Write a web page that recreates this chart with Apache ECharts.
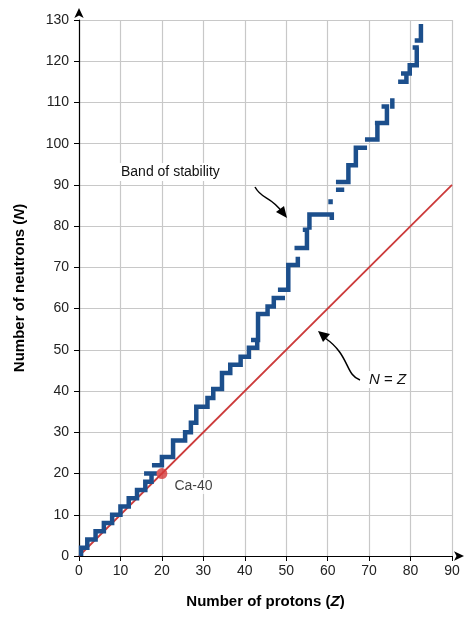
<!doctype html>
<html>
<head>
<meta charset="UTF-8"/>
<script src="https://cdn.jsdelivr.net/npm/echarts@6/dist/echarts.min.js"></script>
<style>html,body{margin:0;padding:0;background:#fff}</style>
</head>
<body>
<div id="chart" style="width:472px;height:625px;"></div>
<script>
// band of stability, traced as a stepped path [Z, N]; '-' breaks the line
var band = [
  [0.5,0],[0.5,2],[2,2],[2,4],[4,4],[4,6],[6,6],[6,8],[8,8],[8,10],[10,10],[10,12],[12,12],[12,14],[14,14],[14,16],[16,16],[16,18],[17.5,18],[17.5,20],'-',
  [15.7,20],[18.8,20],'-',
  [17.6,22],[20,22],[20,24],[22.7,24],[22.7,28],[25.6,28],[25.6,30],[27,30],[27,32.3],[28.3,32.3],[28.3,36.2],[31,36.2],[31,38.3],[32.4,38.3],[32.4,40.5],
  [34.5,40.5],[34.5,44.4],[36.5,44.4],[36.5,46.4],[39,46.4],[39,48.3],[41,48.3],[41,50.5],[43,50.5],[43,52.4],'-',
  [41.5,52.4],[43.2,52.4],[43.2,58.7],[45.5,58.7],[45.5,60.5],[47,60.5],[47,62.6],[49.7,62.6],'-',[48,64.6],[50.5,64.6],[50.5,70.6],[52.8,70.6],[52.8,72.6],'-',
  [52,74.7],[55,74.7],[55,79.1],[54,79.1],'-',[55.6,79.1],[55.6,82.8],[61,82.8],[61,81.5],'-',
  [60.7,85.3],[60.7,86.5],'-',
  [62,88.8],[64,88.8],'-',[62,90.7],[65,90.7],[65,94.8],[66.8,94.8],[66.8,99],[69.5,99],'-',
  [69,101],[72,101],[72,105],[71.4,105],'-',[72,105],[74.3,105],[74.3,109],[73,109],'-',
  [75.6,108.5],[75.6,111],'-',
  [77,115],[79,115],[79,117],'-',[77.7,117],[79.8,117],[79.8,119],[81.5,119],[81.5,123.3],'-',
  [80.5,123.3],[82,123.3],'-',[81,125],[82.5,125],[82.5,129]
];
var lineNZ = [[0,0],[90,90]];
var ca40 = [[20,20]];
var yMax = 130;

var chart = echarts.init(document.getElementById('chart'));
var ff = 'Liberation Sans, Arial, sans-serif';

var option = {
  animation: false,
  textStyle: { fontFamily: ff },
  grid: { left: 79, right: 20, top: 20, bottom: 69 },
  xAxis: {
    type: 'value', min: 0, max: 90, interval: 10,
    name: '{b|Number of protons (}{i|Z}{b|)}',
    nameLocation: 'middle', nameGap: 38,
    nameTextStyle: { rich: {
      b: { fontWeight: 'bold', fontSize: 15, color: '#000', fontFamily: ff },
      i: { fontWeight: 'bold', fontStyle: 'italic', fontSize: 15, color: '#000', fontFamily: ff }
    } },
    axisLine: { lineStyle: { color: '#000', width: 1.2 }, symbol: ['none', 'arrow'], symbolSize: [7, 10], symbolOffset: [0, 12] },
    axisTick: { show: true, length: 5, lineStyle: { color: '#000' } },
    axisLabel: { color: '#222', fontSize: 14, margin: 8 },
    splitLine: { lineStyle: { color: '#c8c8c8', width: 1.2 } }
  },
  yAxis: {
    type: 'value', min: 0, max: yMax, interval: 10,
    name: '{b|Number of neutrons (}{i|N}{b|)}',
    nameLocation: 'middle', nameGap: 52, nameRotate: 90,
    nameTextStyle: { rich: {
      b: { fontWeight: 'bold', fontSize: 15, color: '#000', fontFamily: ff },
      i: { fontWeight: 'bold', fontStyle: 'italic', fontSize: 15, color: '#000', fontFamily: ff }
    } },
    axisLine: { show: true, lineStyle: { color: '#000', width: 1.2 }, symbol: ['none', 'arrow'], symbolSize: [7, 10], symbolOffset: [0, 12] },
    axisTick: { show: true, length: 5, lineStyle: { color: '#000' } },
    axisLabel: { color: '#222', fontSize: 14, margin: 10 },
    splitLine: { lineStyle: { color: '#c8c8c8', width: 1.2 } }
  },
  series: [
    {
      type: 'line', data: lineNZ, showSymbol: false, z: 3,
      lineStyle: { color: '#cc3b3b', width: 1.8 }
    },
    {
      type: 'line', data: band, showSymbol: false, connectNulls: false, z: 4,
      lineStyle: { color: '#1c4f8c', width: 4.5, join: 'miter', cap: 'butt' }
    },
    {
      type: 'scatter', data: ca40, symbolSize: 11, z: 5,
      itemStyle: { color: '#d63a3a' },
      label: { show: true, formatter: 'Ca-40', position: [16, 10], color: '#111', fontSize: 14, backgroundColor: '#fff', padding: [1, 2] }
    }
  ],
  graphic: [
    { type: 'text', left: 118, top: 163, z: 100, style: { text: 'Band of stability', fontSize: 14, fill: '#111', fontFamily: ff, backgroundColor: '#fff', padding: [2, 3] } },
    { type: 'bezierCurve', z: 100, shape: { x1: 255, y1: 187, cpx1: 262, cpy1: 200, cpx2: 270, cpy2: 195, x2: 283, y2: 213 }, style: { stroke: '#000', lineWidth: 1.5, fill: null } },
    { type: 'polygon', z: 100, shape: { points: [[287, 218], [276, 212], [284, 206]] }, style: { fill: '#000' } },
    { type: 'text', left: 366, top: 371, z: 100, style: { text: '{i|N} = {i|Z}', fontSize: 15, fill: '#111', fontFamily: ff, backgroundColor: '#fff', padding: [1, 3], rich: { i: { fontStyle: 'italic', fontSize: 15, fontFamily: ff } } } },
    { type: 'bezierCurve', z: 100, shape: { x1: 360, y1: 380, cpx1: 345, cpy1: 375, cpx2: 350, cpy2: 355, x2: 325, y2: 338 }, style: { stroke: '#000', lineWidth: 1.5, fill: null } },
    { type: 'polygon', z: 100, shape: { points: [[318, 331], [330, 334], [323, 342]] }, style: { fill: '#000' } }
  ]
};

chart.setOption(option);
</script>
</body>
</html>
